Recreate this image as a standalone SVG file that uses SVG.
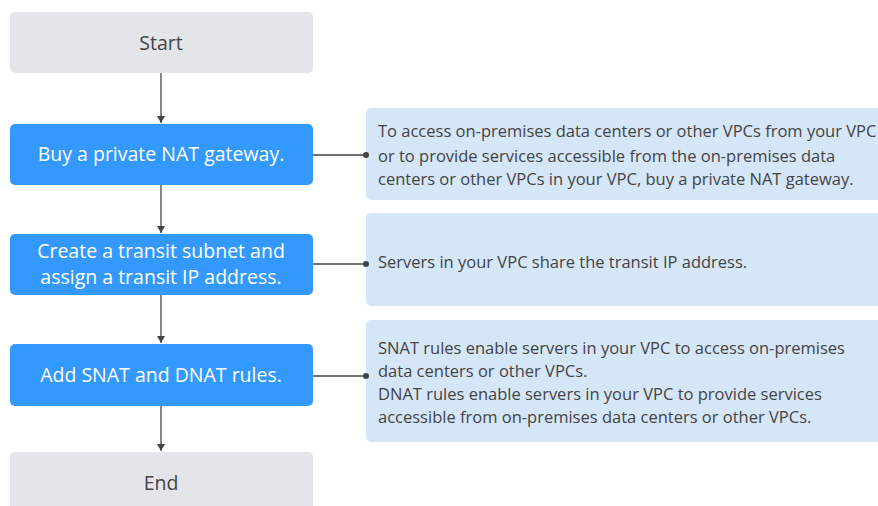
<svg xmlns="http://www.w3.org/2000/svg" width="878" height="506" viewBox="0 0 878 506">
<style>
.gray{fill:#e3e5e8}
.blue{fill:#3399ff}
.note{fill:#d4e6f8}
.t{font-family:"Open Sans","DejaVu Sans",sans-serif;font-size:19.5px;text-anchor:middle}
.tw{fill:#ffffff}
.td{fill:#444444}
.n{font-family:"Open Sans","DejaVu Sans",sans-serif;font-size:16.5px;fill:#444444}
.ln{stroke:#444444;stroke-width:1.3;fill:none}
</style>
<defs>
<marker id="ar" markerWidth="10" markerHeight="10" refX="8" refY="5" orient="auto" markerUnits="userSpaceOnUse">
<path d="M1,1 L8,5 L1,9 Z" fill="#444444"/>
</marker>
</defs>
<g id="start"><rect class="gray" x="10" y="12" width="303" height="61" rx="5"/><text class="t td" x="161" y="50">Start</text></g>
<g id="buy"><rect class="blue" x="10" y="124" width="303" height="61" rx="5"/><text class="t tw" x="161" y="161">Buy a private NAT gateway.</text></g>
<g id="create"><rect class="blue" x="10" y="234" width="303" height="61" rx="5"/><text class="t tw" x="161" y="258">Create a transit subnet and</text><text class="t tw" x="161" y="284">assign a transit IP address.</text></g>
<g id="add"><rect class="blue" x="10" y="344" width="303" height="62" rx="5"/><text class="t tw" x="161" y="382">Add SNAT and DNAT rules.</text></g>
<g id="end"><rect class="gray" x="10" y="452" width="303" height="60" rx="5"/><text class="t td" x="161" y="490">End</text></g>
<g id="note1"><rect class="note" x="366" y="108" width="520" height="92" rx="5"/>
<text class="n" x="378" y="137">To access on-premises data centers or other VPCs from your VPC</text>
<text class="n" x="378" y="162">or to provide services accessible from the on-premises data</text>
<text class="n" x="378" y="185">centers or other VPCs in your VPC, buy a private NAT gateway.</text></g>
<g id="note2"><rect class="note" x="366" y="213" width="520" height="93" rx="5"/>
<text class="n" x="378" y="268">Servers in your VPC share the transit IP address.</text></g>
<g id="note3"><rect class="note" x="366" y="320" width="520" height="122" rx="5"/>
<text class="n" x="378" y="354">SNAT rules enable servers in your VPC to access on-premises</text>
<text class="n" x="378" y="377">data centers or other VPCs.</text>
<text class="n" x="378" y="400">DNAT rules enable servers in your VPC to provide services</text>
<text class="n" x="378" y="423">accessible from on-premises data centers or other VPCs.</text></g>
<g id="connectors">
<line class="ln" x1="161" y1="73" x2="161" y2="123" marker-end="url(#ar)"/>
<line class="ln" x1="161" y1="185" x2="161" y2="233" marker-end="url(#ar)"/>
<line class="ln" x1="161" y1="295" x2="161" y2="343" marker-end="url(#ar)"/>
<line class="ln" x1="161" y1="406" x2="161" y2="451" marker-end="url(#ar)"/>
<line class="ln" x1="313" y1="155" x2="366" y2="155"/><circle cx="366" cy="155" r="3" fill="#444"/>
<line class="ln" x1="313" y1="264" x2="366" y2="264"/><circle cx="366" cy="264" r="3" fill="#444"/>
<line class="ln" x1="313" y1="376" x2="366" y2="376"/><circle cx="366" cy="376" r="3" fill="#444"/>
</g>
</svg>
